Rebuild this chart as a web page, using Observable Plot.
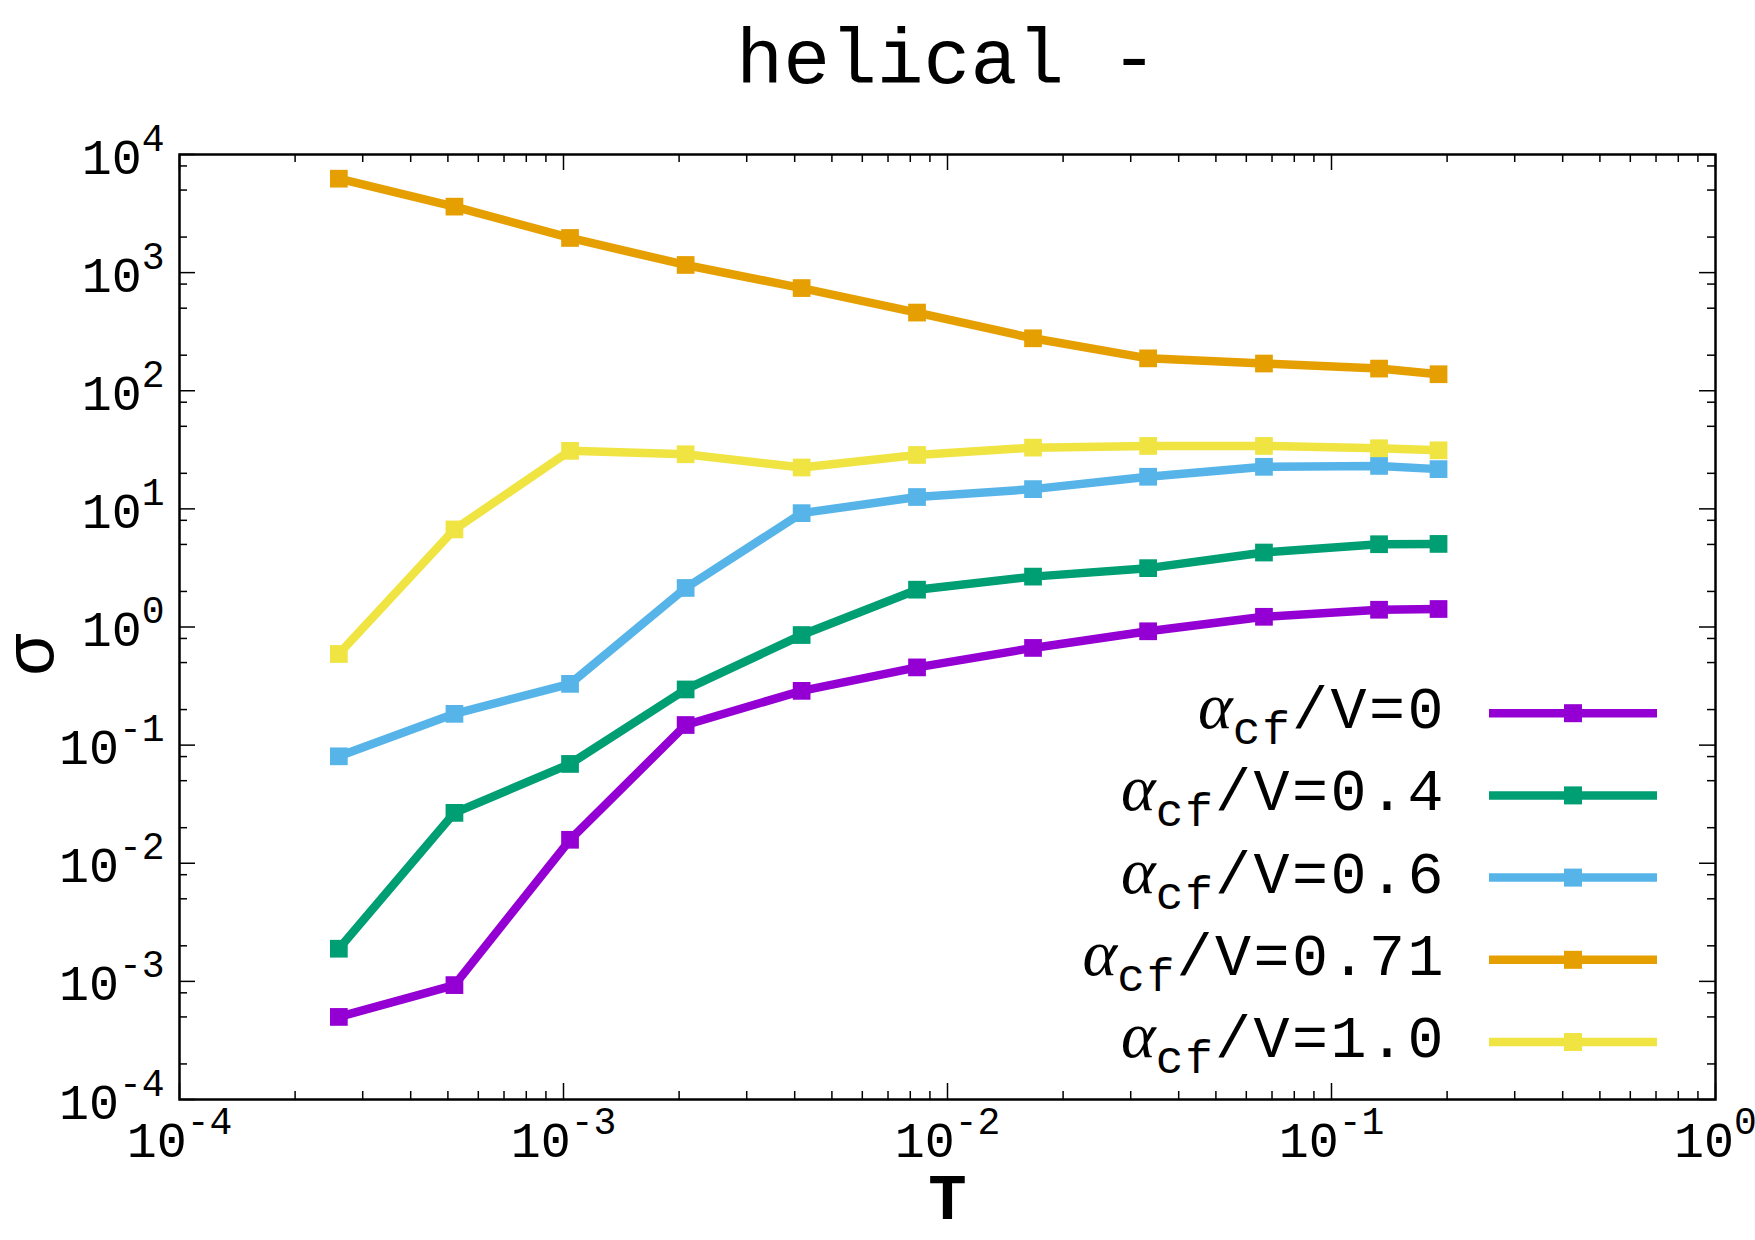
<!DOCTYPE html>
<html>
<head>
<meta charset="utf-8">
<script src="https://cdn.jsdelivr.net/npm/d3@7"></script>
<script src="https://cdn.jsdelivr.net/npm/@observablehq/plot@0.6"></script>
<style>
  html, body { margin: 0; padding: 0; background: #fff; }
  #title {
    width: 1755px; height: 112px; box-sizing: border-box;
    padding-left: 179px; padding-right: 40px; padding-top: 12px;
    text-align: center; white-space: pre; color: #000;
    font-family: "Liberation Mono", monospace; font-size: 78px; line-height: 100px;
  }
  #chart svg { display: block; }
</style>
</head>
<body>
<div id="title"></div>
<div id="chart"></div>
<script>
// Conductivity sigma versus temperature T for several alpha_cf / V ratios
const titleText = "helical -";
const temperature = [0.00026, 0.00052, 0.00104, 0.00208, 0.00417, 0.00833, 0.0167, 0.0333, 0.0667, 0.133, 0.19];
const alphaLabels = ["0", "0.4", "0.6", "0.71", "1.0"];
const sigmaA0   = [5.0e-4, 9.3e-4, 0.0158, 0.148, 0.288, 0.455, 0.665, 0.92, 1.22, 1.40, 1.42];
const sigmaA04  = [1.89e-3, 0.0267, 0.0693, 0.296, 0.855, 2.07, 2.67, 3.15, 4.27, 5.02, 5.05];
const sigmaA06  = [0.0804, 0.184, 0.330, 2.14, 9.2, 12.6, 14.7, 18.7, 22.7, 23.1, 21.7];
const sigmaA071 = [6240, 3620, 1965, 1161, 740, 459, 278, 188, 170, 154, 138];
const sigmaA10  = [0.591, 6.7, 31.0, 29.0, 22.4, 28.6, 33.0, 34.1, 34.1, 32.6, 31.3];
const seriesColors = ["#9400d3", "#009e73", "#56b4e9", "#e69f00", "#f0e442"];
const xTickExponents = [-4, -3, -2, -1, 0];
const yTickExponents = [-4, -3, -2, -1, 0, 1, 2, 3, 4];
const xMinorMultipliers = [2, 3, 4, 5, 6, 7, 8, 9];
const yMinorMultipliers = [2, 5, 8];

const allSeries = [sigmaA0, sigmaA04, sigmaA06, sigmaA071, sigmaA10];
const rows = allSeries.map((vals, s) => vals.map((v, i) => ({T: temperature[i], sigma: v, series: s})));

document.getElementById("title").textContent = titleText;

// layout
const W = 1755, H = 1128;
const mL = 179, mR = 40, mT = 42, mB = 141;
const fw = W - mL - mR, fh = H - mT - mB;
const majorLen = 16, minorLen = 8;

const xMajor = xTickExponents.map(e => 10 ** e);
const yMajor = yTickExponents.map(e => 10 ** e);
const xMinor = xTickExponents.slice(0, -1).flatMap(e => xMinorMultipliers.map(k => k * 10 ** e));
const yMinor = yTickExponents.slice(0, -1).flatMap(e => yMinorMultipliers.map(k => k * 10 ** e));
const powerLabel = v => "10^" + Math.round(Math.log10(v));

// gnuplot-style inward ticks on all four sides
function inwardTicks(values, len, axis) {
  const common = {stroke: "#000", strokeWidth: 1.5};
  if (axis === "x") return [
    Plot.tickX(values, {x: d => d, insetTop: fh - len, ...common}),
    Plot.tickX(values, {x: d => d, insetBottom: fh - len, ...common})
  ];
  return [
    Plot.tickY(values, {y: d => d, insetRight: fw - len, ...common}),
    Plot.tickY(values, {y: d => d, insetLeft: fw - len, ...common})
  ];
}

// key in the lower right corner of the frame
function seriesKey(index, scales, values, dims) {
  const g = d3.create("svg:g");
  const right = dims.width - dims.marginRight;
  const bottom = dims.height - dims.marginBottom;
  const n = alphaLabels.length;
  alphaLabels.forEach((lab, i) => {
    const y = bottom - 57 - (n - 1 - i) * 82.2;
    g.append("line")
      .attr("x1", right - 226).attr("x2", right - 58)
      .attr("y1", y).attr("y2", y)
      .attr("stroke", seriesColors[i]).attr("stroke-width", 8.5);
    g.append("rect")
      .attr("x", right - 151).attr("y", y - 9)
      .attr("width", 18).attr("height", 18)
      .attr("fill", seriesColors[i]);
    const t = g.append("text")
      .attr("x", right - 269).attr("y", y + 15)
      .attr("text-anchor", "end")
      .attr("font-family", "Liberation Mono").attr("font-size", 60).attr("fill", "#000");
    t.append("tspan").attr("font-family", "Liberation Serif").attr("font-style", "italic")
      .attr("font-size", 66).text("α");
    t.append("tspan").attr("font-size", 46).attr("dy", 16).attr("letter-spacing", 2).text("cf");
    t.append("tspan").attr("dy", -16).attr("letter-spacing", 2.5).text("/V=" + lab);
  });
  return g.node();
}

const seriesMarks = rows.flatMap((data, s) => [
  Plot.line(data, {x: "T", y: "sigma", stroke: seriesColors[s], strokeWidth: 8.5}),
  Plot.dot(data, {x: "T", y: "sigma", symbol: "square", r: 10, fill: seriesColors[s]})
]);

const svg = Plot.plot({
  width: W, height: H,
  marginLeft: mL, marginRight: mR, marginTop: mT, marginBottom: mB,
  style: {fontFamily: "Liberation Mono", background: "#fff", color: "#000", overflow: "visible"},
  x: {type: "log", domain: [1e-4, 1], axis: null},
  y: {type: "log", domain: [1e-4, 1e4], axis: null},
  marks: [
    ...inwardTicks(xMinor, minorLen, "x"),
    ...inwardTicks(xMajor, majorLen, "x"),
    ...inwardTicks(yMinor, minorLen, "y"),
    ...inwardTicks(yMajor, majorLen, "y"),
    ...seriesMarks,
    Plot.frame({stroke: "#000", strokeWidth: 2.5}),
    Plot.text(xMajor, {x: d => d, frameAnchor: "bottom", text: powerLabel, textAnchor: "middle",
      lineAnchor: "bottom", dy: 57, fontSize: 50, fill: "#000"}),
    Plot.text(yMajor, {y: d => d, frameAnchor: "left", text: powerLabel, textAnchor: "end",
      lineAnchor: "bottom", dx: -15, dy: 19, fontSize: 50, fill: "#000"}),
    Plot.text(["T"], {frameAnchor: "bottom", text: d => d, textAnchor: "middle", lineAnchor: "bottom",
      dy: 119, fontSize: 64, fontWeight: "bold", fill: "#000"}),
    Plot.text(["σ"], {frameAnchor: "left", text: d => d, textAnchor: "middle", lineAnchor: "bottom",
      rotate: -90, dx: -127, dy: 28, fontSize: 70, fill: "#000"}),
    seriesKey
  ]
});

// exponents drawn as raised, smaller text
d3.select(svg).selectAll("text").each(function () {
  const s = this.textContent;
  if (!s.includes("^")) return;
  const [base, exp] = s.split("^");
  const t = d3.select(this);
  t.text(null);
  t.append("tspan").text(base);
  t.append("tspan").attr("dy", -23).attr("font-size", 38).text(exp);
});

document.getElementById("chart").appendChild(svg);
</script>
</body>
</html>
